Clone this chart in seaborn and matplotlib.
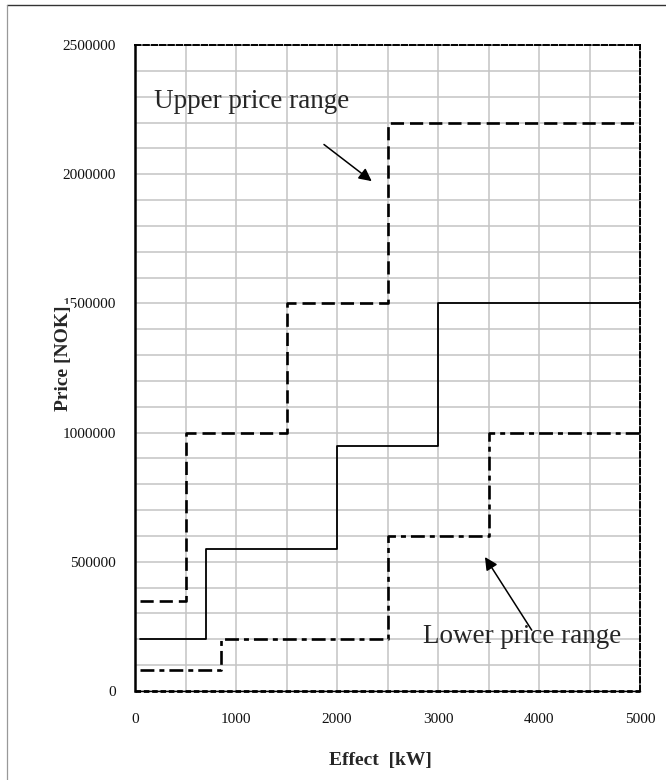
import matplotlib
matplotlib.use("Agg")
import matplotlib.pyplot as plt
from matplotlib.lines import Line2D
from matplotlib.ticker import MultipleLocator, FixedLocator
import seaborn as sns
import pandas as pd

# Step price curves: effect [kW] at each step start, price [NOK] on that step
upper_effect = [50, 500, 1500, 2500, 5000]
upper_price = [350000, 1000000, 1500000, 2200000, 2200000]

mid_effect = [50, 700, 2000, 3000, 5000]
mid_price = [200000, 550000, 950000, 1500000, 1500000]

lower_effect = [50, 850, 2500, 3500, 5000]
lower_price = [80000, 200000, 600000, 1000000, 1000000]

y_ticks = [0, 500000, 1000000, 1500000, 2000000, 2500000]
x_ticks = [0, 1000, 2000, 3000, 4000, 5000]

sns.set_theme(style="white")
plt.rcParams["font.family"] = ["Liberation Serif", "DejaVu Serif"]
plt.rcParams["lines.scale_dashes"] = False

fig = plt.figure(figsize=(6.66, 7.8), dpi=100)
ax = fig.add_axes([135 / 666, 89 / 780, 505 / 666, 646 / 780])

# outer frame of the figure
fig.add_artist(Line2D([7 / 666, 1.0], [1 - 5 / 780, 1 - 5 / 780],
                      transform=fig.transFigure, color="#333333", lw=1.0))
fig.add_artist(Line2D([7 / 666, 7 / 666], [0.0, 1 - 5 / 780],
                      transform=fig.transFigure, color="#999999", lw=0.9))

ax.set_xlim(0, 5000)
ax.set_ylim(0, 2500000)

# grid
ax.xaxis.set_major_locator(FixedLocator(x_ticks))
ax.xaxis.set_minor_locator(MultipleLocator(500))
ax.yaxis.set_major_locator(FixedLocator(y_ticks))
ax.yaxis.set_minor_locator(MultipleLocator(100000))
ax.grid(which="both", color="#c4c4c4", lw=1.1)
ax.set_axisbelow(True)

frames = {
    "upper": pd.DataFrame({"effect": upper_effect, "price": upper_price}),
    "mid": pd.DataFrame({"effect": mid_effect, "price": mid_price}),
    "lower": pd.DataFrame({"effect": lower_effect, "price": lower_price}),
}

sns.lineplot(data=frames["upper"], x="effect", y="price", ax=ax, color="black",
             lw=1.9, drawstyle="steps-post", estimator=None, sort=False,
             dashes=False, linestyle=(0, (9.5, 4.3)), zorder=3)
sns.lineplot(data=frames["mid"], x="effect", y="price", ax=ax, color="black",
             lw=1.3, drawstyle="steps-post", estimator=None, sort=False, zorder=3)
sns.lineplot(data=frames["lower"], x="effect", y="price", ax=ax, color="black",
             lw=1.9, drawstyle="steps-post", estimator=None, sort=False,
             dashes=False, linestyle=(0, (10, 3.6, 3.6, 3.6)), zorder=3)

# plot area border
for side in ["top", "right"]:
    ax.spines[side].set_linestyle((0, (4, 2)))
    ax.spines[side].set_linewidth(1.4)
    ax.spines[side].set_color("black")
ax.spines["left"].set_linewidth(1.8)
ax.spines["left"].set_color("black")
ax.spines["bottom"].set_linewidth(1.0)
ax.spines["bottom"].set_color("black")
ax.plot([0, 5000], [0, 0], color="black", lw=2.0, linestyle=(0, (4, 2)),
        clip_on=False, zorder=4)

ax.set_xticks(x_ticks)
ax.set_xticklabels([str(v) for v in x_ticks])
ax.set_yticks(y_ticks)
ax.set_yticklabels([str(v) for v in y_ticks])
ax.tick_params(axis="both", which="major", direction="out", length=5,
               width=1.2, color="black", labelsize=11, labelcolor="#111111")
ax.tick_params(axis="y", which="major", pad=9)
ax.tick_params(axis="x", which="major", pad=12, length=4)
ax.tick_params(which="minor", length=0)

ax.set_xlabel("Effect  [kW]", fontsize=14, fontweight="bold")
ax.set_ylabel("Price [NOK]", fontsize=14, fontweight="bold", va="center",
              bbox=dict(facecolor="white", edgecolor="none", pad=1.0))
ax.xaxis.set_label_coords(0.487, -0.094)
ax.yaxis.set_label_coords(-0.141, 0.515)

# annotations
ax.text(188, 2255000, "Upper price range", fontsize=19.5, ha="left",
        va="baseline", zorder=5)
ax.annotate("", xy=(2344, 1973000), xytext=(1871, 2115000),
            arrowprops=dict(arrowstyle="-|>", color="black", lw=1.1,
                            mutation_scale=19, shrinkA=0, shrinkB=0), zorder=5)
ax.text(2849, 185300, "Lower price range", fontsize=19.5, ha="left",
        va="baseline", zorder=5)
ax.annotate("", xy=(3465, 518500), xytext=(3928, 235500),
            arrowprops=dict(arrowstyle="-|>", color="black", lw=1.1,
                            mutation_scale=19, shrinkA=0, shrinkB=0), zorder=5)

fig.savefig("out.png", dpi=100, facecolor="white")
